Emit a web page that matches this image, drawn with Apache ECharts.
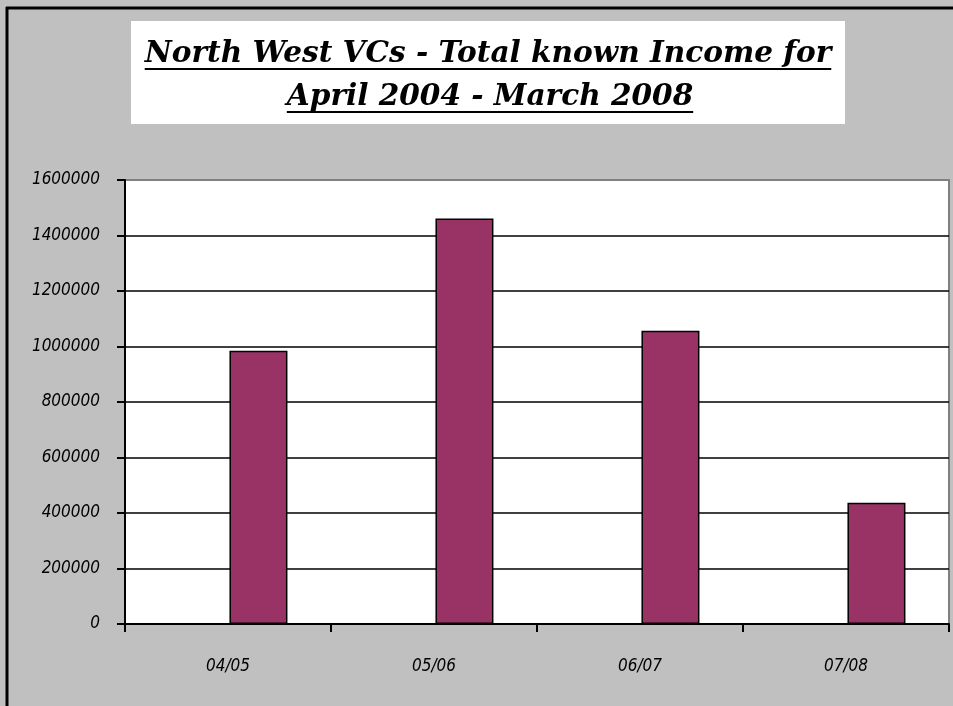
<!DOCTYPE html>
<html><head><meta charset="utf-8">
<script src="https://cdn.jsdelivr.net/npm/echarts@6/dist/echarts.min.js"></script>
<style>html,body{margin:0;padding:0;background:#c0c0c0;}
#chart{position:absolute;left:0;top:0;width:953px;height:706px;}
</style></head><body>
<div id="chart"></div>
<script>
var titleLines = ['North West VCs - Total known Income for', 'April 2004 - March 2008'];
var categories = ['04/05', '05/06', '06/07', '07/08'];
var incomeValues = [985000, 1461000, 1057000, 437000];
var emptySeries = [null, null, null, null];
var yMin = 0, yMax = 1600000, yStep = 200000;

var titleFontFamily = '"DejaVu Serif", serif';
function measure(text, size) {
  var c = document.createElement('canvas').getContext('2d');
  c.font = 'italic bold ' + size + 'px ' + titleFontFamily;
  return c.measureText(text).width;
}
var baseSize = 28;
var titleSize = baseSize * 687 / measure(titleLines[0], baseSize);
var w1 = measure(titleLines[0], titleSize);
var w2 = measure(titleLines[1], titleSize);
var cx = 488;

var nLines = Math.round((yMax - yMin) / yStep) + 1;
var splitColors = [];
for (var i = 0; i < nLines; i++) splitColors.push(i === nLines - 1 ? '#808080' : '#000000');

var labelFont = '"DejaVu Sans Condensed", "DejaVu Sans", sans-serif';
var chart = echarts.init(document.getElementById('chart'), null, {renderer: 'canvas'});
chart.setOption({
  backgroundColor: '#c0c0c0',
  animation: false,
  grid: {left: 125, right: 4, top: 180, bottom: 82, show: true, backgroundColor: '#ffffff', borderColor: '#808080', borderWidth: 2},
  xAxis: {
    type: 'category', data: categories, boundaryGap: true,
    axisLine: {show: true, lineStyle: {color: '#000', width: 2}},
    axisTick: {show: true, length: 8, lineStyle: {color: '#000', width: 2}, interval: 0},
    axisLabel: {margin: 34, color: '#000', fontStyle: 'italic', fontSize: 17, fontFamily: labelFont}
  },
  yAxis: {
    type: 'value', min: yMin, max: yMax, interval: yStep,
    axisLine: {show: true, lineStyle: {color: '#000', width: 2}},
    axisTick: {show: true, length: 8, lineStyle: {color: '#000', width: 2}},
    splitLine: {show: true, lineStyle: {color: splitColors, width: 1.5}},
    axisLabel: {margin: 25, color: '#000', fontStyle: 'italic', fontSize: 17, fontFamily: labelFont,
      formatter: function (v) { return String(v); }}
  },
  series: [
    {type: 'bar', name: 'blank', data: emptySeries, barWidth: 58, barGap: '5%'},
    {type: 'bar', name: 'Income', data: incomeValues, barWidth: 58, barGap: '5%',
     itemStyle: {color: '#993366', borderColor: '#000', borderWidth: 1.5}}
  ],
  graphic: [
    {type: 'line', shape: {x1: 7, y1: 7, x2: 7, y2: 706}, style: {stroke: '#000', lineWidth: 3}, z: 100},
    {type: 'line', shape: {x1: 6, y1: 8, x2: 953, y2: 8}, style: {stroke: '#000', lineWidth: 3}, z: 100},
    {type: 'rect', shape: {x: 131, y: 21, width: 714, height: 103}, style: {fill: '#fff'}, z: 50},
    {type: 'text', x: cx, y: 69, style: {text: titleLines[0], font: 'italic bold ' + titleSize + 'px ' + titleFontFamily, fill: '#000', textAlign: 'center', textVerticalAlign: 'bottom'}, z: 60},
    {type: 'text', x: cx + 2, y: 112, style: {text: titleLines[1], font: 'italic bold ' + titleSize + 'px ' + titleFontFamily, fill: '#000', textAlign: 'center', textVerticalAlign: 'bottom'}, z: 60},
    {type: 'line', shape: {x1: cx - w1 / 2, y1: 69, x2: cx + w1 / 2, y2: 69}, style: {stroke: '#000', lineWidth: 2}, z: 61},
    {type: 'line', shape: {x1: cx + 2 - w2 / 2, y1: 112, x2: cx + 2 + w2 / 2, y2: 112}, style: {stroke: '#000', lineWidth: 2}, z: 61}
  ]
});
</script>
</body></html>
